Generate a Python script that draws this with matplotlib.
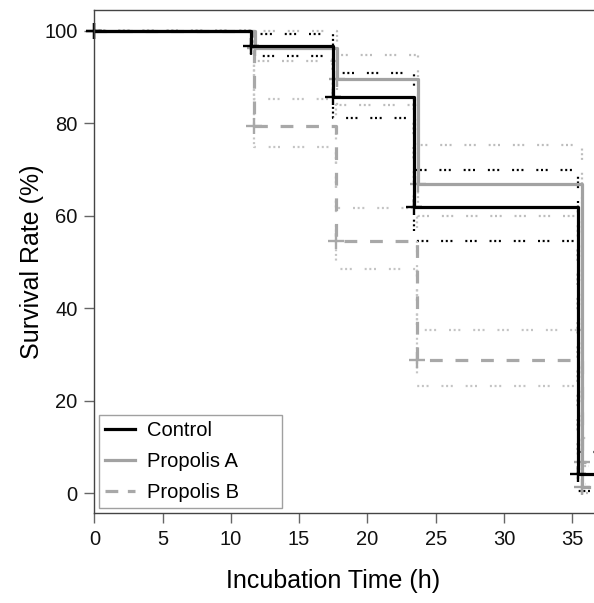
import matplotlib
matplotlib.use("Agg")
import matplotlib.pyplot as plt
from matplotlib.lines import Line2D

plt.rcParams.update({
    "font.family": ["Liberation Sans", "DejaVu Sans"],
    "font.size": 14,
})

# Kaplan-Meier steps (time in h, survival in %)
time_control = [0, 11.5, 17.5, 23.4, 35.4, 36.6]
surv_control = [100, 96.7, 85.8, 61.9, 4.2, 4.2]
ci_hi_control = [100, 99.3, 90.8, 70.0, 9.0, 9.0]
ci_lo_control = [100, 94.5, 81.1, 54.5, 0.5, 0.5]

time_a = [0, 11.8, 17.8, 23.7, 35.7, 36.2]
surv_a = [100, 96.2, 89.6, 66.8, 1.4, 1.4]
ci_hi_a = [100, 100, 94.7, 75.4, 6.0, 6.0]
ci_lo_a = [100, 93.5, 84.0, 59.9, 0.0, 0.0]

time_b = [0, 11.7, 17.7, 23.6, 35.7, 36.0]
surv_b = [100, 79.4, 54.6, 28.8, 6.8, 6.8]
ci_hi_b = [100, 85.2, 61.7, 35.4, 12.0, 12.0]
ci_lo_b = [100, 74.8, 48.6, 23.2, 2.0, 2.0]

labels = ["Control", "Propolis A", "Propolis B"]
x_ticks = [0, 5, 10, 15, 20, 25, 30, 35]
y_ticks = [0, 20, 40, 60, 80, 100]

DOTS = (0, (0.9, 1.2, 0.9, 1.2, 0.9, 5.8))
DASH = (0, (4.0, 4.0))

fig = plt.figure(figsize=(5.94, 6.03), dpi=100)
ax = fig.add_axes([0.1588, 0.1488, 0.8412, 0.8346])

series = [
    (time_control, surv_control, ci_hi_control, ci_lo_control, "#000000", "#000000", "-"),
    (time_a, surv_a, ci_hi_a, ci_lo_a, "#a2a2a2", "#bdbdbd", "-"),
    (time_b, surv_b, ci_hi_b, ci_lo_b, "#a8a8a8", "#c4c4c4", DASH),
]

# confidence bands first, then the survival curves on top
for t, s, hi, lo, col, ci_col, ls in series:
    ax.plot(t, hi, drawstyle="steps-post", color=ci_col, lw=1.6, ls=DOTS)
    ax.plot(t, lo, drawstyle="steps-post", color=ci_col, lw=1.6, ls=DOTS)

for t, s, hi, lo, col, ci_col, ls in reversed(series):
    ax.plot(t, s, drawstyle="steps-post", color=col, lw=2.3, ls=ls)
    # censor marks at each step corner
    ax.plot(t[:-1], s[:-1], ls="none", marker="+", ms=12, mew=1.7,
            color=col, clip_on=False)

ax.set_xlim(0, 36.6)
ax.set_ylim(-4.3, 104.5)
ax.set_xticks(x_ticks)
ax.set_yticks(y_ticks)
ax.tick_params(direction="out", length=7, width=1, color="#666666",
               labelsize=14.5, labelcolor="#111111", pad=5)

for side in ["left", "bottom", "top"]:
    ax.spines[side].set_color("#444444")
    ax.spines[side].set_linewidth(1.0)
ax.spines["right"].set_visible(False)

ax.set_xlabel("Incubation Time (h)", fontsize=18)
ax.set_ylabel("Survival Rate (%)", fontsize=18)
ax.xaxis.set_label_coords(0.477, -0.111)
ax.yaxis.set_label_coords(-0.10, 0.5)

handles = [
    Line2D([], [], color="#000000", lw=2.3),
    Line2D([], [], color="#a2a2a2", lw=2.3),
    Line2D([], [], color="#a8a8a8", lw=2.3, ls=(0, (4.0, 3.0))),
]
leg = ax.legend(handles, labels, loc="lower left",
                bbox_to_anchor=(0.009, 0.01, 0.366, 0.19), mode="expand",
                fontsize=14.5, frameon=True, fancybox=False, handlelength=1.5,
                handletextpad=0.6, labelspacing=0.6, borderpad=0.3,
                borderaxespad=0)
leg.get_frame().set_edgecolor("#888888")
leg.get_frame().set_linewidth(1.0)

fig.savefig("out.png", dpi=100)
